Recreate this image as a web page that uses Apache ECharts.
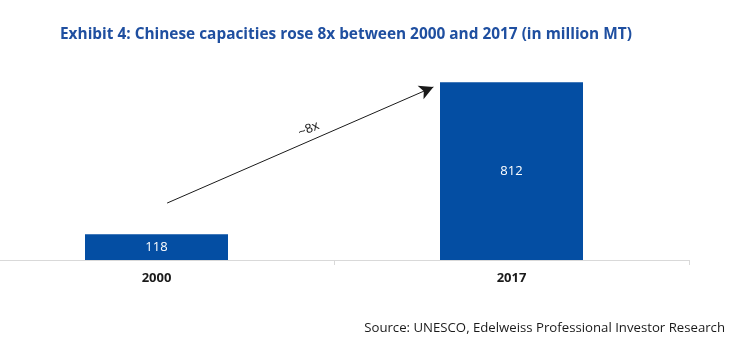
<!DOCTYPE html>
<html>
<head>
<meta charset="utf-8">
<script src="https://cdn.jsdelivr.net/npm/echarts@6/dist/echarts.min.js"></script>
<style>
html,body{margin:0;padding:0;background:#fff;overflow:hidden;}
#main{width:758px;height:343px;margin-left:-21px;}
</style>
</head>
<body>
<div id="main"></div>
<script>
var categories = ['2000', '2017'];
var capacities = [118, 812];
var titleText = 'Exhibit 4: Chinese capacities rose 8x between 2000 and 2017 (in million MT)';
var sourceText = 'Source: UNESCO, Edelweiss Professional Investor Research';
var arrowLabel = '~8x';
// arrow annotation endpoints: [category position, value]
var arrowStart = [0.03, 260];
var arrowEnd = [0.78, 790];

var chart = echarts.init(document.getElementById('main'), null, {renderer: 'canvas'});
var font = '"Open Sans", "Noto Sans", sans-serif';
chart.setOption({
  animation: false,
  title: [{
    text: titleText,
    left: 76, top: 22,
    textStyle: {color: '#1f4fa0', fontSize: 15.4, fontWeight: 'bold', fontFamily: font}
  }, {
    text: sourceText,
    right: 7, top: 317,
    textStyle: {color: '#1a1a1a', fontSize: 13.2, fontWeight: 'normal', fontFamily: font}
  }],
  grid: {left: 0, width: 710, top: 41, height: 219},
  xAxis: [{
    type: 'category',
    data: categories,
    axisLine: {show: true, lineStyle: {color: '#d9d9d9', width: 1}},
    axisTick: {show: true, length: 5, lineStyle: {color: '#d9d9d9'}},
    axisLabel: {color: '#1a1a1a', fontSize: 13, fontWeight: 'bold', fontFamily: font, margin: 12}
  }, {
    type: 'value', min: -0.5, max: 1.5, show: false
  }],
  yAxis: {type: 'value', min: 0, max: 1000, show: false},
  series: [{
    type: 'bar',
    data: capacities,
    barWidth: 143,
    itemStyle: {color: '#044ea3'},
    label: {show: true, position: 'inside', color: '#ffffff', fontSize: 13, fontWeight: 500, fontFamily: font}
  }, {
    type: 'line',
    xAxisIndex: 1,
    data: [],
    silent: true,
    markLine: {
      silent: true,
      symbol: ['none', 'arrow'],
      symbolSize: [11, 14],
      lineStyle: {color: '#1a1a1a', width: 1, type: 'solid'},
      label: {show: true, position: 'middle', formatter: arrowLabel, color: '#1a1a1a', fontSize: 13, fontFamily: 'Liberation Sans, Arial, sans-serif', distance: 5, offset: [12, 0]},
      data: [[{coord: arrowStart}, {coord: arrowEnd}]]
    }
  }]
});
</script>
</body>
</html>
